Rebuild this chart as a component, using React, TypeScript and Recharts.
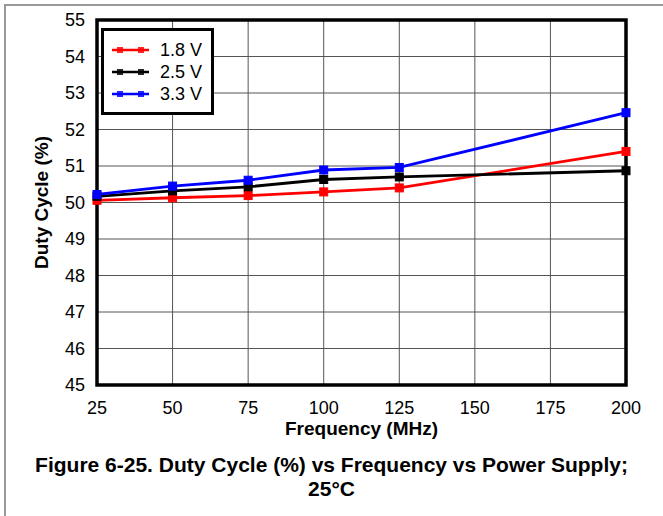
import React from "react";
import {
  LineChart,
  Line,
  XAxis,
  YAxis,
  CartesianGrid,
  ReferenceArea,
} from "recharts";

const frequencies = [25, 50, 75, 100, 125, 200];
const v18 = [50.06, 50.13, 50.19, 50.29, 50.4, 51.4];
const v25 = [50.17, 50.32, 50.43, 50.63, 50.7, 50.87];
const v33 = [50.22, 50.45, 50.61, 50.89, 50.96, 52.46];
const xTicks = [25, 50, 75, 100, 125, 150, 175, 200];
const yTicks = [45, 46, 47, 48, 49, 50, 51, 52, 53, 54, 55];

const seriesNames = ["1.8 V", "2.5 V", "3.3 V"];
const seriesColors = ["#ff0000", "#000000", "#0000ff"];

const data = frequencies.map((f, i) => ({
  f,
  a: v18[i],
  b: v25[i],
  c: v33[i],
}));

const FONT = "'Liberation Sans', Arial, sans-serif";

const SquareDot = (color: string) => (props: any) => {
  const { cx, cy } = props;
  if (cx == null || cy == null) return null;
  return (
    <rect
      x={cx - 4}
      y={cy - 4}
      width={8}
      height={8}
      fill={color}
      stroke={color}
      strokeWidth={1}
    />
  );
};

const LegendBox = () => (
  <div
    style={{
      position: "absolute",
      left: 101,
      top: 28,
      border: "3px solid #000",
      background: "#fff",
      width: 113,
      height: 87,
      boxSizing: "border-box",
      paddingTop: 8,
      fontFamily: FONT,
      fontSize: 18,
    }}
  >
    {seriesNames.map((n, i) => (
      <div key={n} style={{ display: "flex", alignItems: "center", height: 22 }}>
        <svg width={56} height={22} style={{ display: "block" }}>
          <line x1={8} x2={45} y1={11} y2={11} stroke={seriesColors[i]} strokeWidth={2.5} />
          <rect x={13} y={8} width={6} height={6} fill={seriesColors[i]} opacity={0.85} />
          <rect x={34} y={8} width={6} height={6} fill={seriesColors[i]} opacity={0.85} />
        </svg>
        <span style={{ color: "#000", lineHeight: "22px" }}>{n}</span>
      </div>
    ))}
  </div>
);

export default function App() {
  return (
    <div
      style={{
        position: "absolute",
        left: 0,
        top: 0,
        width: 663,
        height: 516,
        background: "#fff",
        overflow: "hidden",
      }}
    >
      <div
        style={{
          position: "absolute",
          left: 4,
          top: 4,
          width: 700,
          height: 600,
          borderLeft: "2px solid #999",
          borderTop: "2px solid #999",
        }}
      />
      <div style={{ position: "absolute", left: 0, top: 0 }}>
        <LineChart
          width={663}
          height={516}
          data={data}
          margin={{ top: 20, right: 37, left: 37, bottom: 101 }}
        >
          <CartesianGrid stroke="#555" strokeWidth={1} horizontalValues={yTicks} verticalValues={xTicks} />
          <XAxis
            dataKey="f"
            type="number"
            domain={[25, 200]}
            ticks={xTicks}
            axisLine={false}
            tickLine={false}
            height={30}
            tick={{ fill: "#000", fontSize: 18, fontFamily: FONT }}
            tickMargin={10}
            label={{
              value: "Frequency (MHz)",
              position: "insideBottom",
              offset: -20,
              style: { fill: "#000", fontSize: 19, fontWeight: "bold", fontFamily: FONT },
            }}
          />
          <YAxis
            type="number"
            domain={[45, 55]}
            ticks={yTicks}
            axisLine={false}
            tickLine={false}
            width={60}
            interval={0}
            tick={{ fill: "#000", fontSize: 18, fontFamily: FONT }}
            tickMargin={6}
            label={{
              value: "Duty Cycle (%)",
              angle: -90,
              position: "insideLeft",
              offset: 0,
              dx: 4,
              style: { fill: "#000", fontSize: 19, fontWeight: "bold", fontFamily: FONT, textAnchor: "middle" },
            }}
          />
          <ReferenceArea
            x1={25}
            x2={200}
            y1={45}
            y2={55}
            fill="none"
            stroke="#000"
            strokeWidth={3.5}
            ifOverflow="visible"
          />
          <Line
            dataKey="a"
            name={seriesNames[0]}
            stroke={seriesColors[0]}
            strokeWidth={2.8}
            dot={SquareDot(seriesColors[0])}
            isAnimationActive={false}
          />
          <Line
            dataKey="b"
            name={seriesNames[1]}
            stroke={seriesColors[1]}
            strokeWidth={2.8}
            dot={SquareDot(seriesColors[1])}
            isAnimationActive={false}
          />
          <Line
            dataKey="c"
            name={seriesNames[2]}
            stroke={seriesColors[2]}
            strokeWidth={2.8}
            dot={SquareDot(seriesColors[2])}
            isAnimationActive={false}
          />
        </LineChart>
      </div>
      <LegendBox />
      <div
        style={{
          position: "absolute",
          left: 0,
          width: 663,
          top: 453,
          textAlign: "center",
          fontFamily: FONT,
          fontWeight: "bold",
          fontSize: 21,
          lineHeight: "24px",
          color: "#000",
        }}
      >
        Figure 6-25. Duty Cycle (%) vs Frequency vs Power Supply;
        <br />
        25°C
      </div>
    </div>
  );
}
